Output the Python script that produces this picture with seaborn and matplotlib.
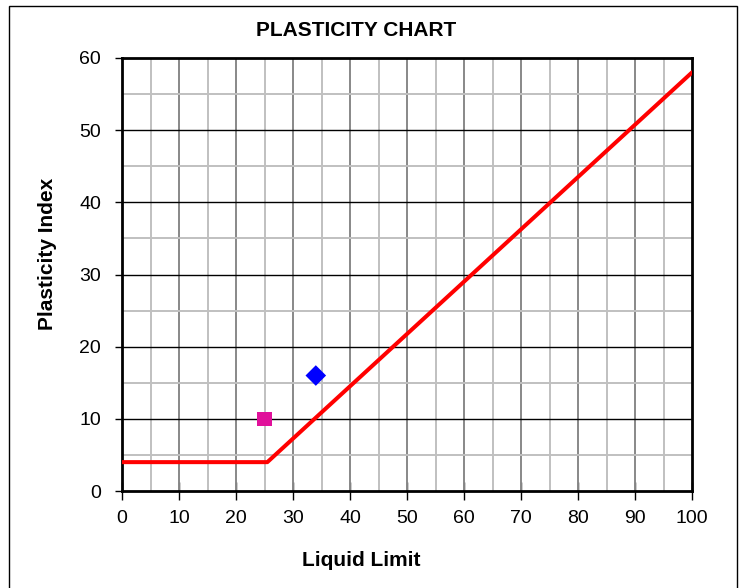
import numpy as np
import pandas as pd
from matplotlib import pyplot as plt
from matplotlib.patches import Rectangle
import seaborn as sns

# A-line (Casagrande)
aline_ll = [0, 25.5, 100]
aline_pi = [4, 4, 58]

# samples
sample_names = ["Sample 1", "Sample 2"]
sample_ll = [25, 34]
sample_pi = [10, 16]
sample_markers = ["s", "D"]
sample_colors = ["#E0109A", "#0000FF"]

x_ticks = list(range(0, 101, 10))
y_ticks = list(range(0, 61, 10))

sns.set_style("white")
plt.rcParams["font.family"] = ["Liberation Sans", "DejaVu Sans"]
plt.rcParams["text.color"] = "black"
plt.rcParams["xtick.color"] = "black"
plt.rcParams["ytick.color"] = "black"

fig = plt.figure(figsize=(7.42, 5.88), dpi=100)
ax = fig.add_axes([122 / 742, 97 / 588, 570 / 742, 433 / 588])

# outer frame
fig.patches.append(Rectangle((9 / 742, -0.05), 728 / 742, 1.04, transform=fig.transFigure,
                             fill=False, edgecolor="black", linewidth=1.0))

aline = pd.DataFrame({"ll": aline_ll, "pi": aline_pi})
sns.lineplot(data=aline, x="ll", y="pi", color="red", linewidth=2.9, ax=ax, zorder=3)

for i in range(len(sample_names)):
    sns.scatterplot(x=[sample_ll[i]], y=[sample_pi[i]], marker=sample_markers[i],
                    color=sample_colors[i], s=110, edgecolor="none", ax=ax, zorder=4)

ax.set_xlim(0, 100)
ax.set_ylim(0, 60)
ax.set_xticks(x_ticks)
ax.set_yticks(y_ticks)

# grid lines
for v in range(5, 100, 5):
    ax.axvline(v, color="#888888" if v % 10 == 0 else "#C0C0C0", linewidth=1.4, zorder=1)
for v in range(5, 60, 5):
    if v % 10 == 0:
        ax.axhline(v, color="black", linewidth=1.0, zorder=1)
    else:
        ax.axhline(v, color="#C0C0C0", linewidth=1.4, zorder=1)

for s in ax.spines.values():
    s.set_visible(True)
    s.set_color("black")
    s.set_linewidth(2)

ax.tick_params(axis="both", left=True, bottom=True, labelsize=14, width=1, colors="black")
ax.tick_params(axis="y", direction="out", length=5, pad=10)
ax.tick_params(axis="x", direction="inout", length=13, pad=7)

ax.set_xlabel("")
ax.set_ylabel("")
fig.text(356 / 742, 1 - 30 / 588, "PLASTICITY CHART", ha="center", va="center",
         fontsize=15, fontweight="bold", color="black")
fig.text(361 / 742, 1 - 561 / 588, "Liquid Limit", ha="center", va="center",
         fontsize=15, fontweight="bold", color="black")
fig.text(48 / 742, 1 - 254 / 588, "Plasticity Index", ha="center", va="center",
         fontsize=15, fontweight="bold", rotation=90, color="black")

plt.savefig("out.png", dpi=100)
